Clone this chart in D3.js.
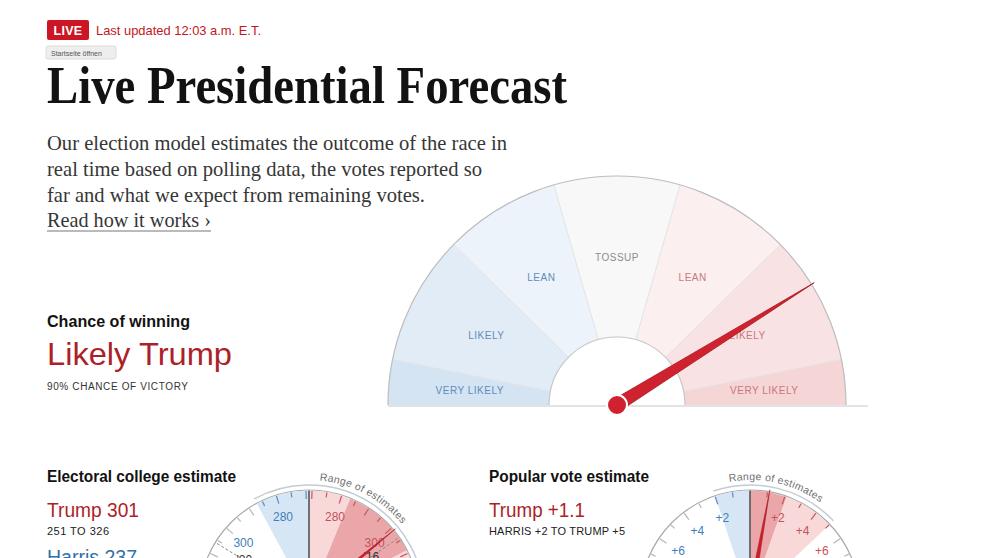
<!DOCTYPE html>
<html>
<head>
<meta charset="utf-8">
<script src="https://cdn.jsdelivr.net/npm/d3@7"></script>
<style>
  html, body { margin: 0; padding: 0; background: #fff; }
  svg { display: block; }
  .sans { font-family: "Liberation Sans", Arial, sans-serif; }
  .serif { font-family: "Liberation Serif", "Times New Roman", serif; }
</style>
</head>
<body>
<script>
// ---------------- DATA ----------------
const liveBadge = "LIVE";
const updatedText = "Last updated 12:03 a.m. E.T.";
const tooltipText = "Startseite öffnen";
const titleText = "Live Presidential Forecast";
const introLines = [
  "Our election model estimates the outcome of the race in",
  "real time based on polling data, the votes reported so",
  "far and what we expect from remaining votes.",
  "Read how it works ›"
];
const chanceHeading = "Chance of winning";
const chanceLabel = "Likely Trump";
const chanceSub = "90% CHANCE OF VICTORY";

const bandLabels = ["VERY LIKELY", "LIKELY", "LEAN", "TOSSUP", "LEAN", "LIKELY", "VERY LIKELY"];
const bandProbEdges = [0, 0.02, 0.15, 0.40, 0.60, 0.85, 0.98, 1];   // Trump win probability
const chanceTrump = 0.90;

const evHeading = "Electoral college estimate";
const evTrump = 301;
const evTrumpRange = [251, 326];
const evTrumpMiddle = [283, 309];
const evHarris = 237;
const evHarrisMax = 287;
const evTickLabels = [280, 300, 320];
const evPast = [
  { label: "'20", side: "D", ev: 306 },
  { label: "'16", side: "R", ev: 304 }
];

const popHeading = "Popular vote estimate";
const popTrump = 1.1;
const popRange = [-2, 5];        // negative = Harris margin
const popMiddle = [0, 2.1];
const popTickLabels = [2, 4, 6, 8];

// ---------------- LAYOUT / STYLE ----------------
const W = 992, H = 558;
const RED = "#c0202b", DARKRED = "#ad1f29", BLUE = "#3270a8";
const gaugeAngleEdges = [0, 11.5, 44.5, 74, 106, 135.5, 168.5, 180]; // degrees from left
const bandColors = ["#d4e4f3", "#e1ecf7", "#edf3fa", "#f8f8f8", "#fcefef", "#f9e2e3", "#f6d5d6"];

const svg = d3.select("body").append("svg").attr("width", W).attr("height", H)
  .attr("viewBox", `0 0 ${W} ${H}`);

// ---- header ----
svg.append("rect").attr("x", 47).attr("y", 20).attr("width", 42).attr("height", 20)
  .attr("rx", 2).attr("fill", "#cc1626");
svg.append("text").attr("class", "sans").attr("x", 68).attr("y", 34.5)
  .attr("text-anchor", "middle").attr("fill", "#fff").attr("font-weight", 700)
  .attr("font-size", 12.5).attr("letter-spacing", 0.3).text(liveBadge);
svg.append("text").attr("class", "sans").attr("x", 96).attr("y", 35)
  .attr("fill", "#c4161c").attr("font-size", 13).attr("textLength", 165)
  .attr("lengthAdjust", "spacingAndGlyphs").text(updatedText);

svg.append("rect").attr("x", 46).attr("y", 46).attr("width", 70).attr("height", 13)
  .attr("rx", 2).attr("fill", "#eeeeee").attr("stroke", "#dcdcdc");
svg.append("text").attr("class", "sans").attr("x", 51).attr("y", 55.5)
  .attr("fill", "#555").attr("font-size", 7).text(tooltipText);

svg.append("text").attr("class", "serif").attr("x", 47).attr("y", 103)
  .attr("fill", "#121212").attr("font-weight", 700).attr("font-size", 52)
  .attr("textLength", 520).attr("lengthAdjust", "spacingAndGlyphs").text(titleText);

const introWidths = [460, 435, 378, 164];
const introY = [150, 175.5, 201.5, 227];
introLines.forEach((t, i) => {
  svg.append("text").attr("class", "serif").attr("x", 47).attr("y", introY[i])
    .attr("fill", "#363636").attr("font-size", 21)
    .attr("textLength", introWidths[i]).attr("lengthAdjust", "spacingAndGlyphs").text(t);
});
svg.append("line").attr("x1", 47).attr("x2", 211).attr("y1", 231).attr("y2", 231)
  .attr("stroke", "#777").attr("stroke-width", 1);

// ---- chance text ----
svg.append("text").attr("class", "sans").attr("x", 47).attr("y", 326.5)
  .attr("fill", "#121212").attr("font-weight", 700).attr("font-size", 16)
  .attr("textLength", 143).attr("lengthAdjust", "spacingAndGlyphs").text(chanceHeading);
svg.append("text").attr("class", "sans").attr("x", 47).attr("y", 365)
  .attr("fill", DARKRED).attr("font-size", 32)
  .attr("textLength", 185).attr("lengthAdjust", "spacingAndGlyphs").text(chanceLabel);
svg.append("text").attr("class", "sans").attr("x", 47).attr("y", 390)
  .attr("fill", "#333").attr("font-size", 10)
  .attr("textLength", 141).attr("lengthAdjust", "spacing").text(chanceSub);

// ---- main gauge ----
const G = { cx: 617, cy: 405, r0: 68, r1: 229 };
const gm = svg.append("g").attr("transform", `translate(${G.cx},${G.cy})`);
const toRad = d => d * Math.PI / 180;
// probability -> d3 arc angle (0 = up, clockwise)
const probAngle = d3.scaleLinear().domain(bandProbEdges)
  .range(gaugeAngleEdges.map(d => toRad(d - 90)));

bandLabels.forEach((lab, i) => {
  gm.append("path")
    .attr("d", d3.arc()({ innerRadius: G.r0, outerRadius: G.r1,
      startAngle: probAngle(bandProbEdges[i]), endAngle: probAngle(bandProbEdges[i + 1]) }))
    .attr("fill", bandColors[i]);
});
// separators
bandProbEdges.slice(1, -1).forEach(p => {
  const a = probAngle(p);
  gm.append("line")
    .attr("x1", G.r0 * Math.sin(a)).attr("y1", -G.r0 * Math.cos(a))
    .attr("x2", G.r1 * Math.sin(a)).attr("y2", -G.r1 * Math.cos(a))
    .attr("stroke", "#e3e3e3").attr("stroke-width", 1);
});
// outlines
gm.append("path").attr("d", d3.arc()({ innerRadius: G.r1, outerRadius: G.r1,
  startAngle: -Math.PI / 2, endAngle: Math.PI / 2 }))
  .attr("fill", "none").attr("stroke", "#bdbdbd").attr("stroke-width", 1.2);
gm.append("path").attr("d", d3.arc()({ innerRadius: G.r0, outerRadius: G.r0,
  startAngle: -Math.PI / 2, endAngle: Math.PI / 2 }))
  .attr("fill", "none").attr("stroke", "#c8c8c8").attr("stroke-width", 1.2);
gm.append("line").attr("x1", -G.r1).attr("x2", 251).attr("y1", 1).attr("y2", 1)
  .attr("stroke", "#c8c8c8").attr("stroke-width", 1.2);

// labels
bandLabels.forEach((lab, i) => {
  const a = (probAngle(bandProbEdges[i]) + probAngle(bandProbEdges[i + 1])) / 2;
  const rr = 148;
  gm.append("text").attr("class", "sans")
    .attr("x", rr * Math.sin(a)).attr("y", -rr * Math.cos(a) + 3.5)
    .attr("text-anchor", "middle").attr("font-size", 10).attr("letter-spacing", 0.5)
    .attr("fill", i < 3 ? "#5f8cba" : (i === 3 ? "#8c8c8c" : "#c87880"))
    .text(lab);
});

// needle
{
  const a = probAngle(chanceTrump);
  const len = 232, hw = 6.5;
  const ux = Math.sin(a), uy = -Math.cos(a);
  const px = -uy, py = ux;
  const pts = [[len * ux, len * uy], [hw * px, hw * py], [-hw * px, -hw * py]];
  gm.append("path").attr("d", "M" + pts.map(p => p.join(",")).join("L") + "Z")
    .attr("fill", "#d0222e").attr("stroke", "#a4161f").attr("stroke-width", 0.8)
    .attr("stroke-linejoin", "round");
  gm.append("circle").attr("cx", 0).attr("cy", 0).attr("r", 10)
    .attr("fill", "#d0222e").attr("stroke", "#fff").attr("stroke-width", 2);
}

// ---- bottom text blocks ----
function block(x, heading, hw, big, bigW, bigColor, sub, subW) {
  svg.append("text").attr("class", "sans").attr("x", x).attr("y", 482)
    .attr("fill", "#121212").attr("font-weight", 700).attr("font-size", 16)
    .attr("textLength", hw).attr("lengthAdjust", "spacingAndGlyphs").text(heading);
  svg.append("text").attr("class", "sans").attr("x", x).attr("y", 517)
    .attr("fill", bigColor).attr("font-size", 20)
    .attr("textLength", bigW).attr("lengthAdjust", "spacingAndGlyphs").text(big);
  svg.append("text").attr("class", "sans").attr("x", x).attr("y", 535)
    .attr("fill", "#222").attr("font-size", 11)
    .attr("textLength", subW).attr("lengthAdjust", "spacing").text(sub);
}
block(47, evHeading, 189, `Trump ${evTrump}`, 92, DARKRED, `${evTrumpRange[0]} TO ${evTrumpRange[1]}`, 62);
svg.append("text").attr("class", "sans").attr("x", 47).attr("y", 563.5)
  .attr("fill", BLUE).attr("font-size", 20).attr("textLength", 90)
  .attr("lengthAdjust", "spacingAndGlyphs").text(`Harris ${evHarris}`);
block(489, popHeading, 160, `Trump +${popTrump}`, 96, DARKRED,
  `HARRIS +${-popRange[0]} TO TRUMP +${popRange[1]}`, 136);

// ---- small gauges ----
const LBLUE = "#d6e6f4", LRED = "#f8d8d9", MRED = "#eaa6a9";
function smallGauge(o) {
  const g = svg.append("g").attr("transform", `translate(${o.cx},${o.cy})`);
  const r = o.r;
  const P = (deg, rr) => [rr * Math.sin(toRad(deg)), -rr * Math.cos(toRad(deg))];
  g.append("circle").attr("r", r).attr("fill", "#fff").attr("stroke", "#a9a9a9").attr("stroke-width", 1.2);
  o.bands.forEach(b => {
    g.append("path").attr("d", d3.arc()({ innerRadius: 0, outerRadius: r - 0.6,
      startAngle: toRad(Math.min(b.a0, b.a1)), endAngle: toRad(Math.max(b.a0, b.a1)) }))
      .attr("fill", b.color);
  });
  o.ticks.forEach(t => {
    const [x1, y1] = P(t.deg, r - 1), [x2, y2] = P(t.deg, r - 1 - t.len);
    g.append("line").attr("x1", x1).attr("y1", y1).attr("x2", x2).attr("y2", y2)
      .attr("stroke", t.color).attr("stroke-width", 1.2);
  });
  o.labels.forEach(l => {
    const [x, y] = P(l.deg, 87);
    g.append("text").attr("class", "sans").attr("x", x).attr("y", y + 4.2)
      .attr("text-anchor", "middle").attr("font-size", 12).attr("fill", l.color).text(l.text);
  });
  (o.past || []).forEach(p => {
    const [x1, y1] = P(p.deg, r - 2), [x2, y2] = P(p.deg, 58);
    g.append("line").attr("x1", x1).attr("y1", y1).attr("x2", x2).attr("y2", y2)
      .attr("stroke", "#8a8a8a").attr("stroke-width", 1).attr("stroke-dasharray", "3,2");
    const [lx, ly] = P(p.deg, 76);
    g.append("text").attr("class", "sans").attr("x", lx).attr("y", ly + 4.2)
      .attr("text-anchor", "middle").attr("font-size", 12).attr("fill", "#333").text(p.label);
  });
  g.append("line").attr("x1", 0).attr("y1", 0).attr("x2", 0).attr("y2", -r + 0.5)
    .attr("stroke", "#555").attr("stroke-width", 1.6);
  // range arc
  g.append("path").attr("d", d3.arc()({ innerRadius: r + 5, outerRadius: r + 5,
    startAngle: toRad(o.range[0]), endAngle: toRad(o.range[1]) }))
    .attr("fill", "none").attr("stroke", "#c3ccd5").attr("stroke-width", 1.5);
  const id = "rp" + o.cx;
  const tr = r + 10;
  const [sx, sy] = P(o.textStart, tr), [ex, ey] = P(o.textStart + 120, tr);
  g.append("path").attr("id", id).attr("fill", "none")
    .attr("d", `M${sx},${sy}A${tr},${tr} 0 0 1 ${ex},${ey}`);
  g.append("text").attr("class", "sans").attr("font-size", 10.5).attr("fill", "#707070")
    .attr("letter-spacing", 0.3)
    .append("textPath").attr("href", "#" + id).text("Range of estimates");
  // needle
  const a = toRad(o.needle), len = r + 2, hw = 2.8;
  const ux = Math.sin(a), uy = -Math.cos(a), px = -uy, py = ux;
  const pts = [[len * ux, len * uy], [hw * px, hw * py], [-hw * px, -hw * py]];
  g.append("path").attr("d", "M" + pts.map(p => p.join(",")).join("L") + "Z")
    .attr("fill", "#cc202c").attr("stroke", "#a3161f").attr("stroke-width", 0.5);
}

// electoral gauge (Trump-equivalent electoral votes -> degrees from vertical)
const evAngle = d3.scaleLinear().domain([269, 383]).range([0, 180]);
const evTicks = [];
d3.range(270, 350, 5).forEach(t => {
  evTicks.push({ deg: evAngle(t), len: t % 10 === 0 ? 8 : 5,
    color: t <= evTrumpRange[1] ? "#c45a62" : "#b5b5b5" });
  evTicks.push({ deg: evAngle(538 - t), len: t % 10 === 0 ? 8 : 5,
    color: t <= evHarrisMax ? "#5a8cc0" : "#b5b5b5" });
});
smallGauge({
  cx: 309, cy: 600, r: 110,
  bands: [
    { a0: evAngle(538 - evHarrisMax), a1: evAngle(269), color: LBLUE },
    { a0: evAngle(269), a1: evAngle(evTrumpMiddle[0]), color: LRED },
    { a0: evAngle(evTrumpMiddle[0]), a1: evAngle(evTrumpMiddle[1]), color: MRED },
    { a0: evAngle(evTrumpMiddle[1]), a1: evAngle(evTrumpRange[1]), color: LRED }
  ],
  ticks: evTicks,
  labels: evTickLabels.flatMap(v => [
    { deg: evAngle(v), text: String(v), color: "#c4525b" },
    { deg: evAngle(538 - v), text: String(v), color: "#3f80ba" }
  ]),
  past: evPast.map(p => ({ deg: p.side === "R" ? evAngle(p.ev) : evAngle(538 - p.ev), label: p.label })),
  range: [evAngle(evTrumpRange[0]), evAngle(evTrumpRange[1])],
  textStart: 5,
  needle: evAngle(evTrump)
});

// popular vote gauge (Trump margin -> degrees from vertical)
const popAngle = d3.scaleLinear().domain([-10, 10]).range([-93, 93]);
const popTicks = [];
d3.range(1, 13).forEach(v => {
  popTicks.push({ deg: popAngle(v), len: v % 2 === 0 ? 8 : 5,
    color: v <= popRange[1] ? "#c45a62" : "#b5b5b5" });
  popTicks.push({ deg: popAngle(-v), len: v % 2 === 0 ? 8 : 5,
    color: v <= -popRange[0] ? "#5a8cc0" : "#b5b5b5" });
});
smallGauge({
  cx: 750, cy: 600, r: 110,
  bands: [
    { a0: popAngle(popRange[0]), a1: popAngle(0), color: LBLUE },
    { a0: popAngle(popMiddle[0]), a1: popAngle(popMiddle[1]), color: MRED },
    { a0: popAngle(popMiddle[1]), a1: popAngle(popRange[1]), color: LRED }
  ],
  ticks: popTicks,
  labels: popTickLabels.flatMap(v => [
    { deg: popAngle(v), text: "+" + v, color: "#c4525b" },
    { deg: popAngle(-v), text: "+" + v, color: "#3f80ba" }
  ]),
  range: [popAngle(popRange[0]), popAngle(popRange[1])],
  textStart: -10,
  needle: popAngle(popTrump)
});
</script>
</body>
</html>
